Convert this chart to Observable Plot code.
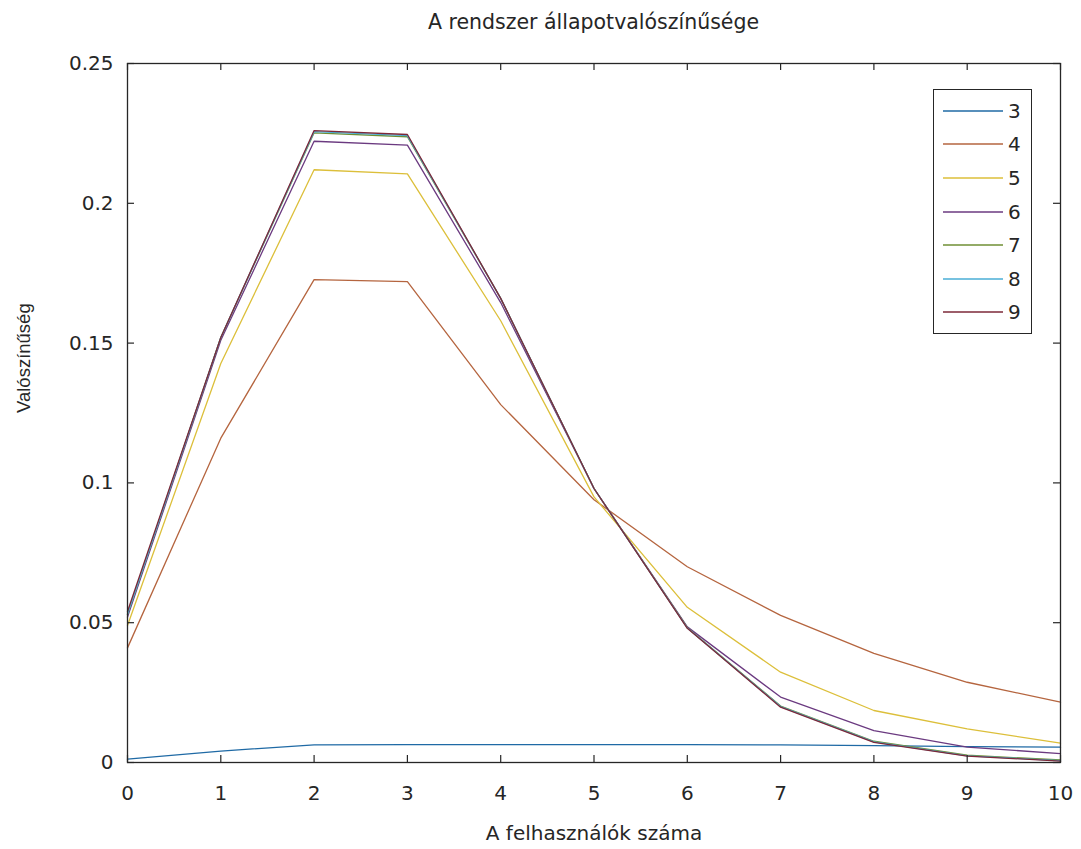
<!DOCTYPE html>
<html>
<head>
<meta charset="utf-8">
<script src="https://cdn.jsdelivr.net/npm/d3@7"></script>
<script src="https://cdn.jsdelivr.net/npm/@observablehq/plot@0.6"></script>
<style>
  html, body { margin: 0; padding: 0; background: #fff; overflow: hidden; }
  #wrap { position: relative; width: 1081px; height: 849px; }
  #title { height: 44px; line-height: 44px; font-family: "DejaVu Sans", sans-serif; font-size: 20.5px; color: #262626;
           position: absolute; left: 127px; width: 933px; top: 0; text-align: center; }
  #chart { position: absolute; left: 0; top: 44px; }
  #legend { position: absolute; left: 933px; top: 89px; width: 99px; box-sizing: border-box;
            border: 1.3px solid #262626; background: #fff; padding: 4px 0 4px 0; font-family: "DejaVu Sans", sans-serif;
            font-size: 20px; color: #262626; }
  .entry { height: 33.6px; display: flex; align-items: center; }
  .entry svg { margin-left: 9px; margin-right: 5px; }
</style>
</head>
<body>
<div id="wrap">
  <div id="title"></div>
  <div id="chart"></div>
  <div id="legend"></div>
</div>
<script>
const titleText = "A rendszer állapotvalószínűsége";
const xLabel = "A felhasználók száma";
const yLabel = "Valószínűség";

const xValues = [0, 1, 2, 3, 4, 5, 6, 7, 8, 9, 10];
const s3 = [0.0012, 0.0041, 0.0063, 0.0064, 0.0064, 0.0064, 0.0064, 0.0063, 0.0060, 0.0057, 0.0055];
const s4 = [0.0410, 0.1160, 0.1727, 0.1720, 0.1280, 0.0940, 0.0700, 0.0526, 0.0390, 0.0287, 0.0216];
const s5 = [0.0490, 0.1427, 0.2120, 0.2105, 0.1580, 0.0950, 0.0555, 0.0323, 0.0186, 0.0120, 0.0069];
const s6 = [0.0520, 0.1510, 0.2222, 0.2208, 0.1645, 0.0980, 0.0485, 0.0234, 0.0114, 0.0055, 0.0032];
const s7 = [0.0530, 0.1520, 0.2252, 0.2238, 0.1660, 0.0980, 0.0482, 0.0202, 0.0076, 0.0026, 0.0009];
const s8 = [0.0530, 0.1520, 0.2256, 0.2242, 0.1660, 0.0980, 0.0481, 0.0200, 0.0074, 0.0024, 0.0007];
const s9 = [0.0540, 0.1520, 0.2260, 0.2246, 0.1660, 0.0980, 0.0480, 0.0198, 0.0072, 0.0023, 0.0005];

const seriesNames = ["3", "4", "5", "6", "7", "8", "9"];
const seriesValues = [s3, s4, s5, s6, s7, s8, s9];
const seriesColors = ["#1f6aa5", "#b5653f", "#dcbf3a", "#6b3a80", "#6f8f35", "#4aaed6", "#7d2838"];

const xTicks = [0, 1, 2, 3, 4, 5, 6, 7, 8, 9, 10];
const xTickLabels = ["0", "1", "2", "3", "4", "5", "6", "7", "8", "9", "10"];
const yTicks = [0, 0.05, 0.1, 0.15, 0.2, 0.25];
const yTickLabels = ["0", "0.05", "0.1", "0.15", "0.2", "0.25"];

const data = seriesNames.flatMap((name, i) =>
  xValues.map((x, j) => ({ series: name, x, y: seriesValues[i][j] })));

const W = 1081, H = 805, mT = 19, mB = 87, mL = 127, mR = 21;
const plotH = H - mT - mB, plotW = W - mL - mR;
const tick = 7;
const ink = "#262626";

document.getElementById("title").textContent = titleText;

const chart = Plot.plot({
  width: W, height: H,
  marginTop: mT, marginBottom: mB, marginLeft: mL, marginRight: mR,
  style: { fontFamily: "DejaVu Sans, sans-serif", fontSize: "20px", color: ink, background: "white", overflow: "visible" },
  x: { domain: [0, 10] },
  y: { domain: [0, 0.25] },
  color: { domain: seriesNames, range: seriesColors },
  marks: [
    Plot.lineY(data, { x: "x", y: "y", z: "series", stroke: "series", strokeWidth: 1.3 }),
    Plot.frame({ stroke: ink, strokeWidth: 1.3 }),
    Plot.tickX(xTicks, { x: d => d, stroke: ink, strokeWidth: 1.2, insetTop: plotH - tick }),
    Plot.tickX(xTicks, { x: d => d, stroke: ink, strokeWidth: 1.2, insetBottom: plotH - tick }),
    Plot.tickY(yTicks, { y: d => d, stroke: ink, strokeWidth: 1.2, insetRight: plotW - tick }),
    Plot.tickY(yTicks, { y: d => d, stroke: ink, strokeWidth: 1.2, insetLeft: plotW - tick }),
    Plot.axisX(xTicks, { anchor: "bottom", tickSize: 0, tickPadding: 23, label: null,
      tickFormat: d => xTickLabels[xTicks.indexOf(d)], fontSize: 20, fill: ink }),
    Plot.axisY(yTicks, { anchor: "left", tickSize: 0, tickPadding: 14, label: null,
      tickFormat: d => yTickLabels[yTicks.indexOf(d)], fontSize: 20, fill: ink }),
    Plot.text([xLabel], { text: d => d, frameAnchor: "bottom", dy: 77, fontSize: 20, fill: ink }),
    Plot.text([yLabel], { text: d => d, frameAnchor: "left", dx: -103, rotate: -90, fontSize: 18.5,
      fontFamily: "Liberation Sans, sans-serif", fill: ink })
  ]
});
document.getElementById("chart").appendChild(chart);

const legend = document.getElementById("legend");
seriesNames.forEach((name, i) => {
  const row = document.createElement("div");
  row.className = "entry";
  row.innerHTML = `<svg width="60" height="6"><line x1="0" x2="60" y1="3" y2="3" stroke="${seriesColors[i]}" stroke-width="1.5"/></svg><span>${name}</span>`;
  legend.appendChild(row);
});
</script>
</body>
</html>
